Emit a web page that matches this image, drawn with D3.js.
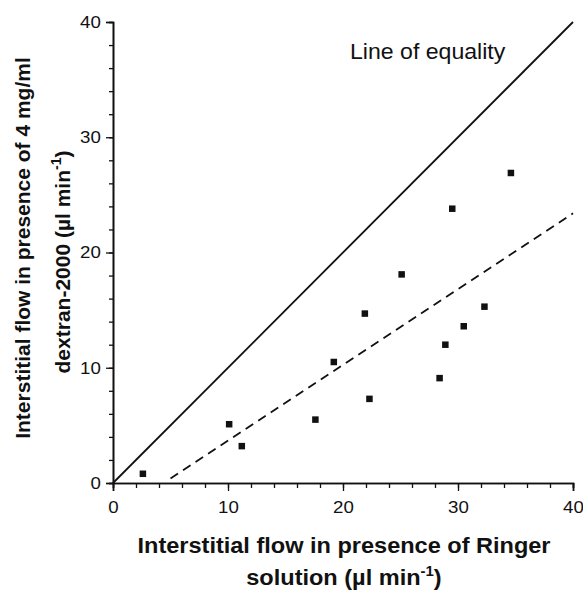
<!DOCTYPE html>
<html>
<head>
<meta charset="utf-8">
<script src="https://cdn.jsdelivr.net/npm/d3@7"></script>
<style>
  body { margin: 0; background: #fff; }
  svg { display: block; font-family: "Liberation Sans", Arial, sans-serif; }
</style>
</head>
<body>
<svg id="chart" width="583" height="590"></svg>
<script>
(function () {
    'use strict';

    // flow with Ringer (x) vs with dextran-2000 (y), ul/min
    var ringer  = [2.6, 10.1, 11.2, 17.6, 19.2, 21.9, 22.3, 25.1, 28.4, 28.9, 29.5, 30.5, 32.3, 34.6];
    var dextran = [0.8, 5.1, 3.2, 5.5, 10.5, 14.7, 7.3, 18.1, 9.1, 12.0, 23.8, 13.6, 15.3, 26.9];

    var equalityX = [0, 40];
    var equalityY = [0, 40];
    var fitX = [5, 40];
    var fitY = [0.4, 23.4];

    var majorTicks = [0, 10, 20, 30, 40];
    var minorTicks = d3.range(0, 41, 2);

    var svg = d3.select('#chart');
    var left = 113, right = 573, top = 22, bottom = 483;
    var stretch = 1.1; // the scan is a bit wider than tall

    var x = d3.scaleLinear().domain([0, 40]).range([left, right]);
    var y = d3.scaleLinear().domain([0, 40]).range([bottom, top]);

    // axes: minor ticks first, then major ticks with labels
    svg.append('g')
        .attr('transform', 'translate(0,' + bottom + ')')
        .call(d3.axisBottom(x).tickValues(minorTicks).tickSize(5).tickFormat(''));
    svg.append('g')
        .attr('transform', 'translate(0,' + bottom + ')')
        .call(d3.axisBottom(x).tickValues(majorTicks).tickSize(8).tickPadding(10));

    svg.append('g')
        .attr('transform', 'translate(' + left + ',0)')
        .call(d3.axisLeft(y).tickValues(minorTicks).tickSize(4).tickFormat(''));
    svg.append('g')
        .attr('transform', 'translate(' + left + ',0)')
        .call(d3.axisLeft(y).tickValues(majorTicks).tickSize(7).tickPadding(4));

    svg.selectAll('.domain').attr('stroke', '#111').attr('stroke-width', 1.6);
    svg.selectAll('.tick line').attr('stroke', '#111').attr('stroke-width', 1.3);
    svg.selectAll('.tick text')
        .attr('font-family', '"Liberation Sans", Arial, sans-serif')
        .attr('font-size', 17)
        .attr('fill', '#111')
        .attr('transform', 'scale(' + stretch + ',1)');

    var line = d3.line()
        .x(function (d) { return x(d[0]); })
        .y(function (d) { return y(d[1]); });

    // line of equality
    svg.append('path')
        .datum(d3.zip(equalityX, equalityY))
        .attr('d', line)
        .attr('fill', 'none')
        .attr('stroke', '#111')
        .attr('stroke-width', 1.8);

    // regression line
    svg.append('path')
        .datum(d3.zip(fitX, fitY))
        .attr('d', line)
        .attr('fill', 'none')
        .attr('stroke', '#111')
        .attr('stroke-width', 1.8)
        .attr('stroke-dasharray', '9,6');

    var sq = 6.5;
    svg.selectAll('rect.pt')
        .data(d3.zip(ringer, dextran))
        .enter()
        .append('rect')
        .attr('class', 'pt')
        .attr('x', function (d) { return x(d[0]) - sq / 2; })
        .attr('y', function (d) { return y(d[1]) - sq / 2; })
        .attr('width', sq)
        .attr('height', sq)
        .attr('fill', '#111');

    svg.append('text')
        .attr('transform', 'translate(350,59) scale(1.05,1)')
        .attr('font-size', 22)
        .attr('fill', '#111')
        .text('Line of equality');

    // x title
    var xt = svg.append('text')
        .attr('transform', 'translate(344,0) scale(1.07,1)')
        .attr('text-anchor', 'middle')
        .attr('font-weight', 'bold')
        .attr('font-size', 22)
        .attr('fill', '#111');
    xt.append('tspan').attr('x', 0).attr('y', 553).text('Interstitial flow in presence of Ringer');
    var xt2 = xt.append('tspan').attr('x', 0).attr('y', 585);
    xt2.append('tspan').text('solution (\u00b5l min');
    xt2.append('tspan').attr('dy', -9).attr('font-size', 14).text('-1');
    xt2.append('tspan').attr('dy', 9).text(')');

    // y title
    var yt = svg.append('text')
        .attr('transform', 'rotate(-90)')
        .attr('text-anchor', 'middle')
        .attr('font-weight', 'bold')
        .attr('font-size', 21)
        .attr('fill', '#111');
    yt.append('tspan').attr('x', -248).attr('y', 30).text('Interstitial flow in presence of 4 mg/ml');
    var yt2 = yt.append('tspan').attr('x', -262).attr('y', 70);
    yt2.append('tspan').text('dextran-2000 (\u00b5l min');
    yt2.append('tspan').attr('dy', -9).attr('font-size', 14).text('-1');
    yt2.append('tspan').attr('dy', 9).text(')');
})();
</script>
</body>
</html>
